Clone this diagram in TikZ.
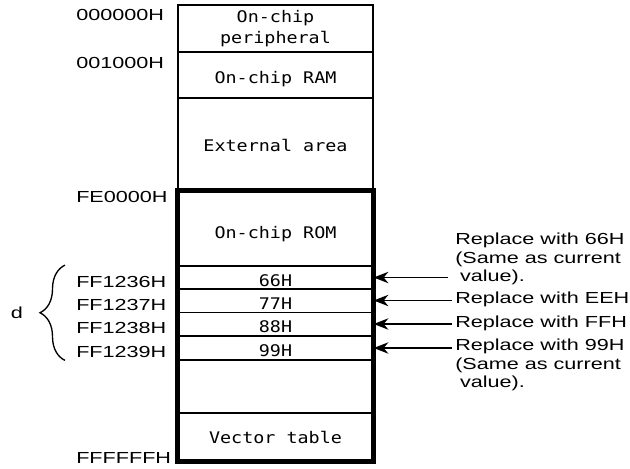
\documentclass[tikz,border=0pt]{standalone}
\usepackage{fontspec}
\setmainfont{Liberation Sans}
\newfontfamily\addrfont[FakeStretch=1.35]{Liberation Sans}
\newfontfamily\memfont[FakeStretch=1.15]{DejaVu Sans Mono}
\usetikzlibrary{arrows.meta,decorations.pathreplacing}

\begin{document}
\begin{tikzpicture}[x=0.75pt,y=-0.75pt,>={Stealth[length=11pt,width=8.5pt,inset=3.5pt]},
  area/.style={draw,line width=1pt,minimum width=146.25pt,inner sep=0pt,align=center,
    font=\memfont\fontsize{12}{16.5}\selectfont},
  low/.style={text height=#1,text depth=0pt},
  addr/.style={anchor=west,inner sep=0pt,font=\addrfont\fontsize{12}{14}\selectfont},
  note/.style={anchor=north west,inner sep=0pt,align=left,font=\addrfont\fontsize{12}{13.9}\selectfont}]
  \useasboundingbox (0,0) rectangle (630,468);

  % memory map
  \node[area,minimum height=35.25pt] (per) at (275.5,28.5) {On-chip\\[-0.4pt]peripheral};
  \node[area,minimum height=34.5pt,low=13pt] (ram) at (275.5,75) {On-chip RAM};
  \node[area,minimum height=69.75pt,low=10pt] (ext) at (275.5,144.5) {External area};
  \node[area,minimum height=56.25pt,low=15pt] (rom) at (275.5,228.5) {On-chip ROM};
  \foreach \v/\y in {66/277.5,77/300.5,88/324,99/348}{
    \node[area,minimum height=17.6pt,low=13pt] (r\v) at (275.5,\y) {\v H};
  }
  \node[area,minimum height=39.75pt] (gap) at (275.5,386.5) {};
  \node[area,minimum height=36pt,low=9pt] (vect) at (275.5,437) {Vector table};
  \draw[line width=3.6pt] (rom.north west) rectangle (vect.south east);

  % addresses
  \foreach \a/\y in {000000/15,001000/63,FE0000/197,FF1236/282,FF1237/305,FF1238/328,FF1239/352,FFFFFF/458}{
    \node[addr] (a\a) at (76,\y) {\a H};
  }
  \draw[line width=1pt,decorate,decoration={brace,mirror,amplitude=18.75pt,aspect=0.5}]
    ([xshift=-8.25pt]aFF1236.west |- r66.north) -- ([xshift=-8.25pt]aFF1239.west |- r99.south);
  \node[addr,anchor=center] (d) at (17,313) {d};

  % replacement values
  \node[note] (n66) at (455,233) {Replace with 66H\\(Same as current\\\hspace{0.3em}value).};
  \node[note] (nEE) at (455,292) {Replace with EEH};
  \node[note] (nFF) at (455,316) {Replace with FFH};
  \node[note] (n99) at (455,339) {Replace with 99H\\(Same as current\\\hspace{0.3em}value).};
  \draw[->,line width=1.4pt] ([xshift=-5pt]n66.west |- r66) -- (r66.east);
  \draw[->,line width=1.4pt] ([xshift=-2pt]nEE.west |- r77) -- (r77.east);
  \draw[->,line width=1.4pt] ([xshift=-2pt]nFF.west |- r88) -- (r88.east);
  \draw[->,line width=1.4pt] ([xshift=-2pt]n99.west |- r99) -- (r99.east);
\end{tikzpicture}
\end{document}
